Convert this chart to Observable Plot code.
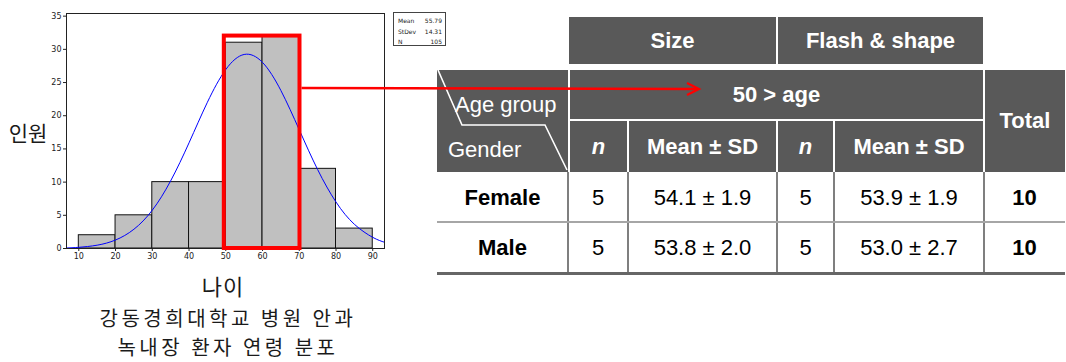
<!DOCTYPE html>
<html><head><meta charset="utf-8">
<script src="https://cdn.jsdelivr.net/npm/d3@7"></script>
<script src="https://cdn.jsdelivr.net/npm/@observablehq/plot@0.6"></script>
<style>
body{margin:0;background:#fff;}
#wrap{position:relative;width:1066px;height:362px;overflow:hidden;font-family:"Liberation Sans",Arial,sans-serif;}
.kr{position:absolute;font-family:"Noto Sans CJK KR",sans-serif;color:#1a1a1a;white-space:nowrap;text-align:center;}
.cell{position:absolute;display:flex;align-items:center;justify-content:center;box-sizing:border-box;white-space:nowrap;font-size:22px;}
.hd{background:#595959;color:#fff;font-weight:bold;}
.bd{font-weight:bold;}
.it{font-style:italic;}
#stats{position:absolute;border:1px solid #444;box-sizing:border-box;font-family:"DejaVu Sans",sans-serif;font-size:6px;color:#222;padding:3px 3px 0 4px;line-height:10.5px;}
#stats div{display:flex;justify-content:space-between;}
</style></head><body><div id="wrap"></div>
<script>
// ---------- histogram data ----------
const binStart = [10, 20, 30, 40, 50, 60, 70, 80];
const binEnd   = [20, 30, 40, 50, 60, 70, 80, 90];
const counts   = [2, 5, 10, 10, 31, 32, 12, 3];
// fitted normal curve
const curveAge   = [6.65, 10, 15, 20, 25, 30, 35, 40, 45, 50, 55, 60, 65, 70, 75, 80, 85, 90, 93.2];
const curveCount = [0.08, 0.18, 0.5, 1.28, 2.9, 5.77, 10.19, 15.92, 22.03, 26.96, 29.23, 28.03, 23.8, 17.88, 11.89, 7.0, 3.65, 1.68, 0.94];
const xTicks = [10, 20, 30, 40, 50, 60, 70, 80, 90];
const yTicks = [0, 5, 10, 15, 20, 25, 30, 35];
const statLabels = ["Mean", "StDev", "N"];
const statValues = ["55.79", "14.31", "105"];
const highlightFrom = 49.6, highlightTo = 70.2, highlightTop = 32;
const yLabel = "인원", xLabel = "나이";
const captionLines = ["강동경희대학교 병원 안과", "녹내장 환자 연령 분포"];

// ---------- table data ----------
const groupHeaders = ["Size", "Flash & shape"];
const ageGroupLabel = "50 > age";
const genders = ["Female", "Male"];
const sizeN = [5, 5];
const sizeMeanSD = ["54.1 ± 1.9", "53.8 ± 2.0"];
const flashN = [5, 5];
const flashMeanSD = ["53.9 ± 1.9", "53.0 ± 2.7"];
const totals = [10, 10];

const W = document.getElementById("wrap");

const bins = binStart.map((s, i) => ({x1: s, x2: binEnd[i], y: counts[i]}));
const curve = curveAge.map((a, i) => ({x: a, y: curveCount[i]}));
const hl = [{from: highlightFrom, to: highlightTo, bottom: 0, top: highlightTop}];

const plot = Plot.plot({
  width: 430, height: 262,
  marginLeft: 66, marginRight: 46, marginTop: 13, marginBottom: 14,
  style: {fontFamily: "DejaVu Sans", fontSize: "8px", color: "#222", background: "transparent", overflow: "visible"},
  x: {domain: [6.65, 93.2]},
  y: {domain: [0, 35.4]},
  marks: [
    Plot.rectY(bins, {x1: "x1", x2: "x2", y: "y", fill: "#c0c0c0", stroke: "#111", strokeWidth: 1, inset: 0}),
    Plot.line(curve, {x: "x", y: "y", curve: "natural", stroke: "#0000ff", strokeWidth: 1}),
    Plot.frame({stroke: "#222"}),
    Plot.axisX({ticks: xTicks, tickSize: 3, tickPadding: 2, label: null, fontSize: 8}),
    Plot.axisY({ticks: yTicks, tickSize: 3, tickPadding: 2, label: null, fontSize: 8}),
    Plot.rect(hl, {x1: "from", x2: "to", y1: "bottom", y2: "top", fill: "none", stroke: "#ff0000", strokeWidth: 4})
  ]
});
plot.style.position = "absolute";
plot.style.left = "0px";
plot.style.top = "0px";
W.appendChild(plot);

// stats box
const stats = document.createElement("div");
stats.id = "stats";
Object.assign(stats.style, {left: "393px", top: "12px", width: "53px", height: "34px"});
stats.innerHTML = statLabels.map((l, i) => `<div><span>${l}</span><span>${statValues[i]}</span></div>`).join("");
W.appendChild(stats);

// Korean labels
function kr(text, left, top, width, size, lh, ls) {
  const d = document.createElement("div");
  d.className = "kr";
  Object.assign(d.style, {left: left + "px", top: top + "px", width: width + "px", height: lh + "px", fontSize: size + "px", lineHeight: lh + "px", letterSpacing: (ls || 0) + "px"});
  d.textContent = text;
  W.appendChild(d);
}
kr(yLabel, 4, 121, 48, 21, 22, 0);
kr(xLabel, 163, 274, 120, 22, 22, 1);
kr(captionLines[0], 58, 306, 340, 20, 24, 3.5);
kr(captionLines[1], 58, 335, 340, 20, 24, 3.5);

// ---------- table ----------
function box(x1, y1, x2, y2, cls, html, style) {
  const d = document.createElement("div");
  d.className = "cell" + (cls ? " " + cls : "");
  Object.assign(d.style, {left: x1 + "px", top: y1 + "px", width: (x2 - x1) + "px", height: (y2 - y1) + "px"}, style || {});
  if (html != null) d.innerHTML = html;
  W.appendChild(d);
  return d;
}
const cx = [437, 568, 628, 777, 834, 984, 1065];
const ry = [17, 64, 70, 120, 172, 222, 272];

box(cx[1] + 1, ry[0], cx[3] - 1, ry[1], "hd", groupHeaders[0]);
box(cx[3] + 1, ry[0], cx[5] - 1, ry[1], "hd", groupHeaders[1]);
box(cx[0], ry[2], cx[1], ry[4], "hd", "");
box(cx[1] + 2, ry[2], cx[5] - 1, ry[3] - 1, "hd", ageGroupLabel);
box(cx[1] + 2, ry[3] + 1, cx[2] - 1, ry[4], "hd it", "n");
box(cx[2] + 1, ry[3] + 1, cx[3] - 1, ry[4], "hd", "Mean ± SD");
box(cx[3] + 1, ry[3] + 1, cx[4] - 1, ry[4], "hd it", "n");
box(cx[4] + 1, ry[3] + 1, cx[5] - 1, ry[4], "hd", "Mean ± SD");
box(cx[5] + 1, ry[2], cx[6], ry[4], "hd", "Total");

// header corner texts
box(455, 93, 560, 117, "", "Age group", {color: "#fff", justifyContent: "flex-start"});
box(448, 138, 540, 162, "", "Gender", {color: "#fff", justifyContent: "flex-start"});

// data rows
genders.forEach((g, r) => {
  const y1 = ry[4 + r], y2 = ry[5 + r];
  const vals = [[g, "bd"], [sizeN[r], ""], [sizeMeanSD[r], ""], [flashN[r], ""], [flashMeanSD[r], ""], [totals[r], "bd"]];
  vals.forEach((v, c) => box(cx[c], y1, cx[c + 1], y2, v[1], String(v[0]), {color: "#000", paddingTop: "2px"}));
});
for (let i = 1; i <= 5; i++) box(cx[i] - 1, ry[4], cx[i] + 1, ry[6], "", null, {background: "#7f7f7f"});
box(cx[0], ry[5] - 1, cx[6], ry[5] + 1, "", null, {background: "#a6a6a6"});
box(cx[0], ry[6], cx[6], ry[6] + 3, "", null, {background: "#666"});

// ---------- overlay: diagonal lines & arrow ----------
const sx = plot.scale("x"), sy = plot.scale("y");
const ns = "http://www.w3.org/2000/svg";
const ov = document.createElementNS(ns, "svg");
ov.setAttribute("width", 1066); ov.setAttribute("height", 362);
Object.assign(ov.style, {position: "absolute", left: "0px", top: "0px", pointerEvents: "none"});
function el(tag, attrs) { const e = document.createElementNS(ns, tag); for (const k in attrs) e.setAttribute(k, attrs[k]); ov.appendChild(e); return e; }
el("polyline", {points: "438,70 462,125 545,125 567,170", fill: "none", stroke: "#fff", "stroke-width": 1.6});
const ax0 = sx.apply(highlightTo) + 2, ay = sy.apply(24.1), ax1 = 699;
el("line", {x1: ax0, y1: ay, x2: ax1 - 2, y2: ay + 1, stroke: "#ff0000", "stroke-width": 2.6});
el("polyline", {points: `${ax1 - 12},${ay - 5} ${ax1},${ay + 1} ${ax1 - 12},${ay + 7}`, fill: "none", stroke: "#ff0000", "stroke-width": 2.2});
W.appendChild(ov);
</script></body></html>
